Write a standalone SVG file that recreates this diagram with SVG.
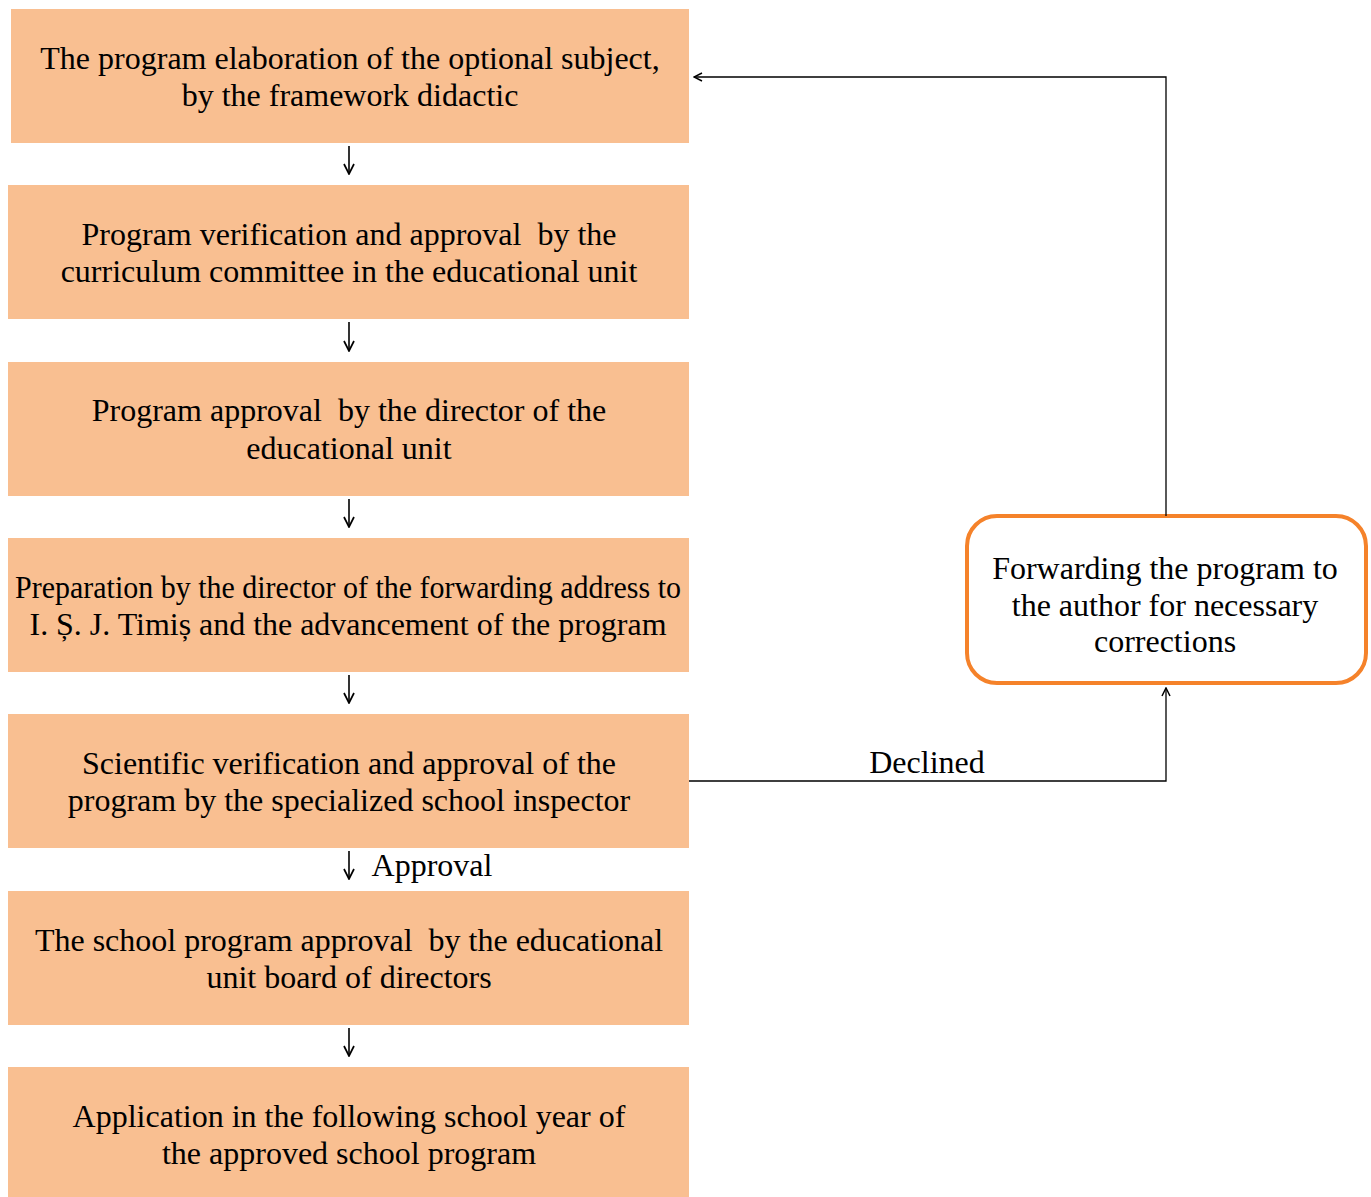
<svg xmlns="http://www.w3.org/2000/svg" width="1371" height="1197" viewBox="0 0 1371 1197">
<style>
.box{fill:#F9BF91;}
.t{font-family:"Liberation Serif","Times New Roman",serif;font-size:32px;fill:#000;text-anchor:middle;}
.c{fill:none;stroke:#000;stroke-width:1.3;}
.d{fill:none;stroke:#000;stroke-width:1.6;}
</style>
<defs>
<marker id="ah" viewBox="0 0 10 10" refX="9" refY="5" markerWidth="10" markerHeight="10" markerUnits="userSpaceOnUse" orient="auto">
<path d="M1,1 L9,5 L1,9" fill="none" stroke="#000" stroke-width="1.5"/>
</marker>
<marker id="ad" viewBox="0 0 12 12" refX="11" refY="6" markerWidth="12" markerHeight="12" markerUnits="userSpaceOnUse" orient="auto">
<path d="M1,1 L11,6 L1,11" fill="none" stroke="#000" stroke-width="1.7"/>
</marker>
</defs>
<rect width="1371" height="1197" fill="#fff"/>
<g id="n1"><rect class="box" x="11" y="9" width="678" height="134"/><text class="t" x="350" y="69">The program elaboration of the optional subject,</text><text class="t" x="350" y="106">by the framework didactic</text></g>
<g id="n2"><rect class="box" x="8" y="185" width="681" height="134"/><text class="t" x="349" y="245" xml:space="preserve">Program verification and approval  by the</text><text class="t" x="349" y="282">curriculum committee in the educational unit</text></g>
<g id="n3"><rect class="box" x="8" y="362" width="681" height="134"/><text class="t" x="349" y="421" xml:space="preserve">Program approval  by the director of the</text><text class="t" x="349" y="459">educational unit</text></g>
<g id="n4"><rect class="box" x="8" y="538" width="681" height="134"/><text class="t" x="348" y="598" textLength="666" lengthAdjust="spacingAndGlyphs">Preparation by the director of the forwarding address to</text><text class="t" x="348" y="635" textLength="637" lengthAdjust="spacingAndGlyphs">I. Ș. J. Timiș and the advancement of the program</text></g>
<g id="n5"><rect class="box" x="8" y="714" width="681" height="134"/><text class="t" x="349" y="774">Scientific verification and approval of the</text><text class="t" x="349" y="811">program by the specialized school inspector</text></g>
<g id="n6"><rect class="box" x="8" y="891" width="681" height="134"/><text class="t" x="349" y="951" xml:space="preserve">The school program approval  by the educational</text><text class="t" x="349" y="988">unit board of directors</text></g>
<g id="n7"><rect class="box" x="8" y="1067" width="681" height="130"/><text class="t" x="349" y="1127">Application in the following school year of</text><text class="t" x="349" y="1164">the approved school program</text></g>
<g id="n8"><rect x="967" y="516" width="399" height="167" rx="30" ry="30" fill="#fff" stroke="#F5822A" stroke-width="4"/><text class="t" x="1165" y="579">Forwarding the program to</text><text class="t" x="1165" y="616">the author for necessary</text><text class="t" x="1165" y="652">corrections</text></g>
<g id="connectors">
<path class="d" d="M349,146 V174" marker-end="url(#ad)"/>
<path class="d" d="M349,322 V351" marker-end="url(#ad)"/>
<path class="d" d="M349,499 V527" marker-end="url(#ad)"/>
<path class="d" d="M349,675 V703" marker-end="url(#ad)"/>
<path class="d" d="M349,851 V879" marker-end="url(#ad)"/>
<path class="d" d="M349,1028 V1056" marker-end="url(#ad)"/>
<path class="c" d="M1166,516 V77 H694" marker-end="url(#ah)"/>
<path class="c" d="M689,781 H1166 V688" marker-end="url(#ah)"/>
<text class="t" x="927" y="773">Declined</text>
<text class="t" x="432" y="876">Approval</text>
</g>
</svg>
